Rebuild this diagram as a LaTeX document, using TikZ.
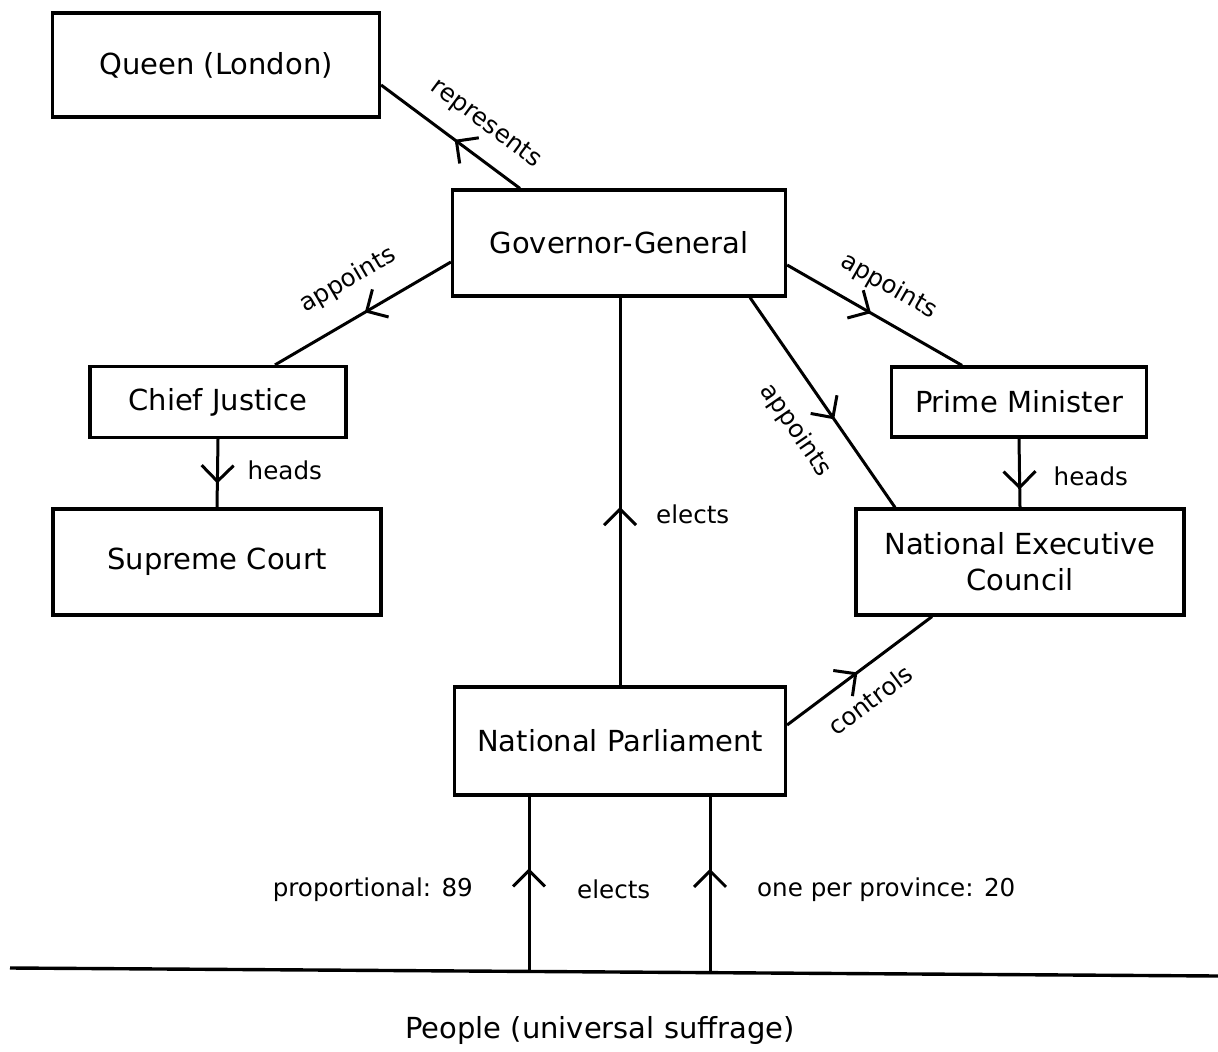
\documentclass[tikz,border=0pt]{standalone}
\usepackage{fontspec}
\setmainfont{DejaVu Sans}
\usetikzlibrary{arrows.meta,decorations.markings}

\tikzset{
  box/.style={draw, line width=1.6pt, align=center, inner sep=0pt,
    font=\fontsize{14.5}{18}\selectfont},
  lbl/.style={font=\fontsize{12.3}{14}\selectfont},
  link/.style={line width=1.5pt},
  midarrow/.style={link, postaction={decorate}, decoration={markings,
    mark=at position #1 with {\arrow{Straight Barb[length=8pt,width=16pt,line width=1.5pt]}}}},
  midarrow/.default=0.5
}

\begin{document}
\begin{tikzpicture}[x=0.5pt,y=-0.5pt]
  \useasboundingbox (0,0) rectangle (1218,1052);

  % offices
  \node[box, minimum width=163.5pt, minimum height=52pt] (queen) at (216,65) {Queen (London)};
  \node[box, minimum width=166.5pt, minimum height=53pt] (gg) at (619,243) {Governor-General};
  \node[box, minimum width=128pt, minimum height=35.5pt] (cj) at (218,402) {Chief Justice};
  \node[box, minimum width=164pt, minimum height=53pt] (sc) at (217,562) {Supreme Court};
  \node[box, minimum width=127.5pt, minimum height=35pt] (pm) at (1019,402) {Prime Minister};
  \node[box, minimum width=164pt, minimum height=53pt] (nec) at (1020,562) {National Executive\\Council};
  \node[box, minimum width=165.5pt, minimum height=54pt] (np) at (620,741) {National Parliament};

  % the people
  \coordinate (gl) at (10,968);
  \coordinate (gr) at (1218,976);
  \coordinate (pl) at (529,971.4);
  \coordinate (pr) at (710,972.6);
  \draw[line width=1.7pt] (gl) -- (gr);
  \node[box, draw=none] (people) at (600,1030) {People (universal suffrage)};

  % links
  \draw[midarrow=0.47] ([xshift=34.5pt]gg.north west) -- node[lbl, sloped, above=6pt, pos=0.38] {represents} ([yshift=-10pt]queen.east);
  \draw[midarrow=0.49] ([yshift=-9.5pt]gg.west) -- node[lbl, sloped, above=8pt, pos=0.48] {appoints} ([xshift=28.5pt]cj.north);
  \draw[midarrow=0.48] ([yshift=-11pt]gg.east) -- node[lbl, sloped, above=6pt, pos=0.49] {appoints} ([xshift=-28.5pt]pm.north);
  \draw[midarrow=0.58] ([xshift=65.5pt]gg.south) -- node[lbl, sloped, below=9pt, pos=0.53] {appoints} ([xshift=-62.5pt]nec.north);
  \draw[midarrow=0.65] (cj.south) -- node[lbl, right=11pt, pos=0.45] {heads} (sc.north);
  \draw[midarrow=0.74] (pm.south) -- node[lbl, right=13pt, pos=0.55] {heads} (nec.north);
  \draw[midarrow=0.46] (np.north) -- node[lbl, right=14pt, pos=0.44] {elects} (np.north |- gg.south);
  \draw[midarrow=0.485] ([yshift=8pt]np.east) -- node[lbl, sloped, below=6pt, pos=0.45] {controls} ([xshift=-44pt]nec.south);
  \draw[midarrow=0.59] (pl) -- node[lbl, left=24pt, pos=0.47] {proportional: 89}
    node[lbl, right=20pt, pos=0.47] {elects} (pl |- np.south);
  \draw[midarrow=0.59] (pr) -- node[lbl, right=19.5pt, pos=0.47] {one per province: 20} (pr |- np.south);
\end{tikzpicture}
\end{document}
